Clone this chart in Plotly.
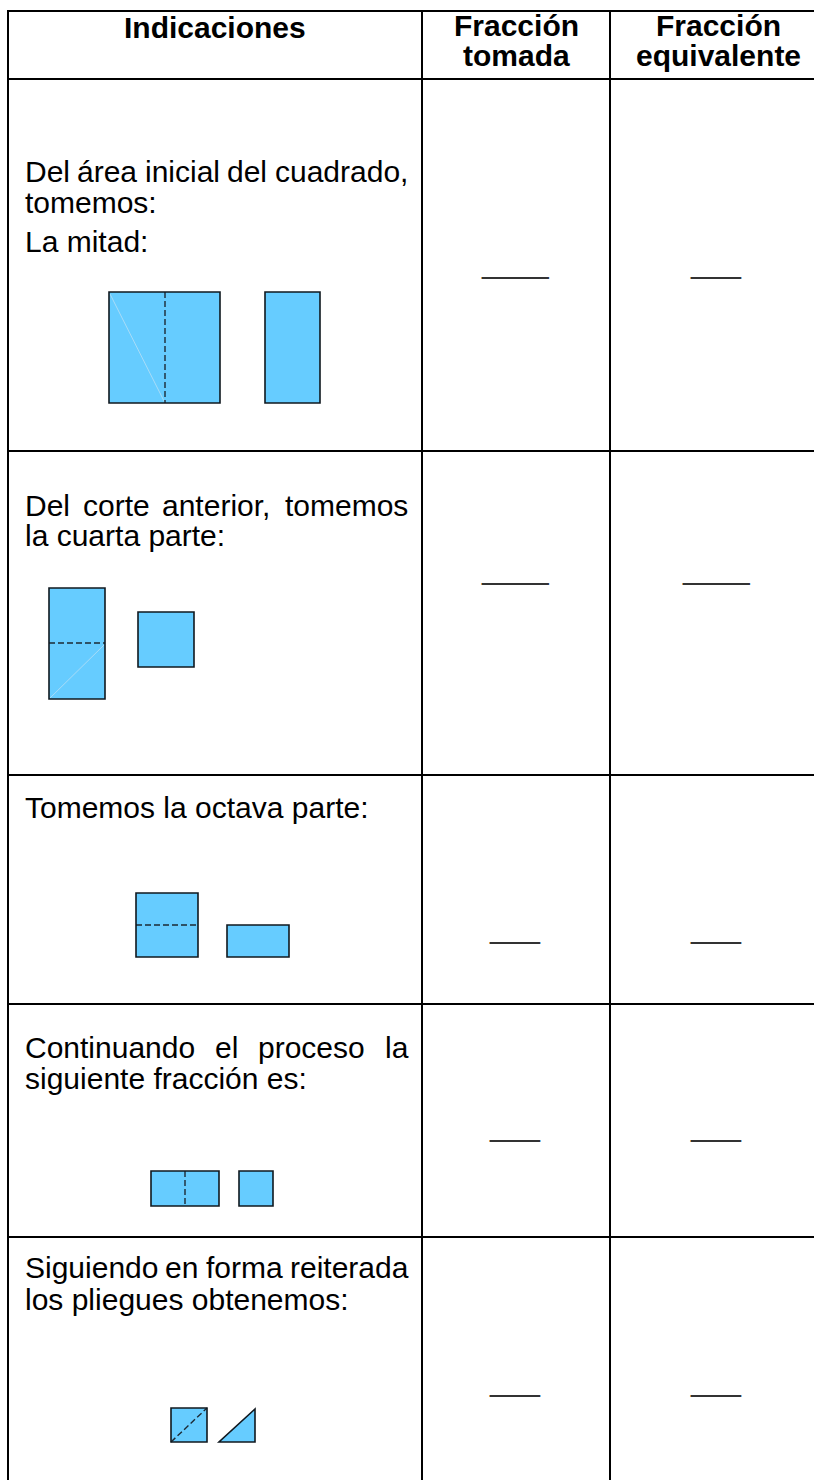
import plotly.graph_objects as go

W, H = 814, 1480
FONT = "Liberation Sans, Arial, sans-serif"
FONT_SIZE = 30
FILL = "#66CCFF"
EDGE = "#10181f"
FAINT = "#a8dcf8"

# ---- table geometry / content ----
col_edges = [8, 422, 610]
row_edges = [11, 79, 451, 775, 1004, 1237]

header_labels = [["Indicaciones"], ["Fracción", "tomada"], ["Fracción", "equivalente"]]
header_x = [215, 516, 718]
header_y = [[27], [25, 55], [25, 55]]

indicaciones = [
    [("Del área inicial del cuadrado,", True), ("tomemos:", False), ("La mitad:", False)],
    [("Del corte anterior, tomemos", True), ("la cuarta parte:", False)],
    [("Tomemos la octava parte:", False)],
    [("Continuando el proceso la", True), ("siguiente fracción es:", False)],
    [("Siguiendo en forma reiterada", True), ("los pliegues obtenemos:", False)],
]
line_y = [[171, 202, 241], [505, 535], [807], [1047, 1078], [1267, 1299]]
text_left, text_right = 24, 407

blank_taken = ["____", "____", "___", "___", "___"]
blank_equiv = ["___", "____", "___", "___", "___"]
blank_y = [280, 586, 945, 1143, 1398]
blank_x = [515, 716]

# paper figures (per row)
rects = [
    [(109, 292, 220, 403), (265, 292, 320, 403)],
    [(49, 588, 105, 699), (138, 612, 194, 667)],
    [(136, 893, 198, 957), (227, 925, 289, 957)],
    [(151, 1171, 219, 1206), (239, 1171, 273, 1206)],
    [(171, 1408, 207, 1442)],
]
triangles = [[(219, 1442), (255, 1442), (255, 1409)]]
fold_lines = [
    (165, 292, 165, 403),
    (49, 643, 105, 643),
    (136, 925, 198, 925),
    (185, 1171, 185, 1206),
    (171, 1442, 207, 1408),
]
faint_lines = [(110, 294, 165, 403), (50, 698, 104, 645)]

# Arial / Liberation Sans advance widths (per 1000 em)
ARIAL = {" ": 278, ",": 278, ":": 278, "a": 556, "b": 556, "c": 500, "d": 556, "e": 556,
         "f": 278, "g": 556, "h": 556, "i": 222, "j": 222, "k": 500, "l": 222, "m": 833,
         "n": 556, "o": 556, "p": 556, "q": 556, "r": 333, "s": 500, "t": 278, "u": 556,
         "v": 500, "w": 722, "x": 500, "y": 500, "z": 500, "á": 556, "ó": 556,
         "C": 722, "D": 722, "F": 611, "L": 556, "S": 667, "T": 611, "I": 278}


def text_width(s, size=FONT_SIZE):
    return sum(ARIAL.get(ch, 556) for ch in s) * size / 1000.0


fig = go.Figure()
shapes = []
annotations = []

# table rules
for y in row_edges:
    shapes.append(dict(type="line", x0=col_edges[0] - 1, x1=W + 5, y0=y, y1=y,
                       line=dict(color="black", width=2)))
for x in col_edges:
    shapes.append(dict(type="line", x0=x, x1=x, y0=row_edges[0] - 1, y1=H + 5,
                       line=dict(color="black", width=2)))

# headers
for labels, hx, hys in zip(header_labels, header_x, header_y):
    for lab, hy in zip(labels, hys):
        annotations.append(dict(x=hx, y=hy, text="<b>%s</b>" % lab, showarrow=False,
                                xanchor="center", yanchor="middle",
                                font=dict(family=FONT, size=FONT_SIZE, color="black")))

# indication texts
for lines, ys in zip(indicaciones, line_y):
    for (txt, justify), ty in zip(lines, ys):
        if justify:
            words = txt.split(" ")
            widths = [text_width(w) for w in words]
            gap = (text_right - text_left - sum(widths)) / (len(words) - 1)
            x = text_left
            for w, wd in zip(words, widths):
                annotations.append(dict(x=x, y=ty, text=w, showarrow=False,
                                        xanchor="left", yanchor="middle", borderpad=0,
                                        font=dict(family=FONT, size=FONT_SIZE, color="black")))
                x += wd + gap
        else:
            annotations.append(dict(x=text_left, y=ty, text=txt, showarrow=False,
                                    xanchor="left", yanchor="middle", borderpad=0,
                                    font=dict(family=FONT, size=FONT_SIZE, color="black")))

# blanks
for bt, be, by in zip(blank_taken, blank_equiv, blank_y):
    for s, bx in zip((bt, be), blank_x):
        annotations.append(dict(x=bx, y=by, text=s, showarrow=False,
                                xanchor="center", yanchor="bottom", borderpad=0,
                                font=dict(family=FONT, size=FONT_SIZE, color="#333333")))

# figures: fills
for row in rects:
    for (x0, y0, x1, y1) in row:
        shapes.append(dict(type="rect", x0=x0, x1=x1, y0=y0, y1=y1,
                           fillcolor=FILL, line=dict(width=0)))
for tri in triangles:
    path = "M " + " L ".join("%g,%g" % p for p in tri) + " Z"
    shapes.append(dict(type="path", path=path, fillcolor=FILL,
                       line=dict(color=EDGE, width=1.6)))
for (x0, y0, x1, y1) in faint_lines:
    shapes.append(dict(type="line", x0=x0, x1=x1, y0=y0, y1=y1,
                       line=dict(color=FAINT, width=1)))
for (x0, y0, x1, y1) in fold_lines:
    shapes.append(dict(type="line", x0=x0, x1=x1, y0=y0, y1=y1,
                       line=dict(color="#1d2a35", width=1.4, dash="6px,3px")))
for row in rects:
    for (x0, y0, x1, y1) in row:
        shapes.append(dict(type="rect", x0=x0, x1=x1, y0=y0, y1=y1,
                           fillcolor="rgba(0,0,0,0)", line=dict(color=EDGE, width=1.6)))

# one axis unit = one pixel of the page
fig.update_layout(
    width=W, height=H,
    margin=dict(l=0, r=0, t=0, b=0),
    paper_bgcolor="white", plot_bgcolor="white",
    xaxis=dict(range=[0, W], visible=False, fixedrange=True),
    yaxis=dict(range=[H, 0], visible=False, fixedrange=True),
    shapes=shapes, annotations=annotations, showlegend=False,
)

fig.write_html(
    "out.html",
    config={"displayModeBar": False, "staticPlot": True},
    post_script="document.body.style.margin='0px';document.body.style.overflow='hidden';",
)
